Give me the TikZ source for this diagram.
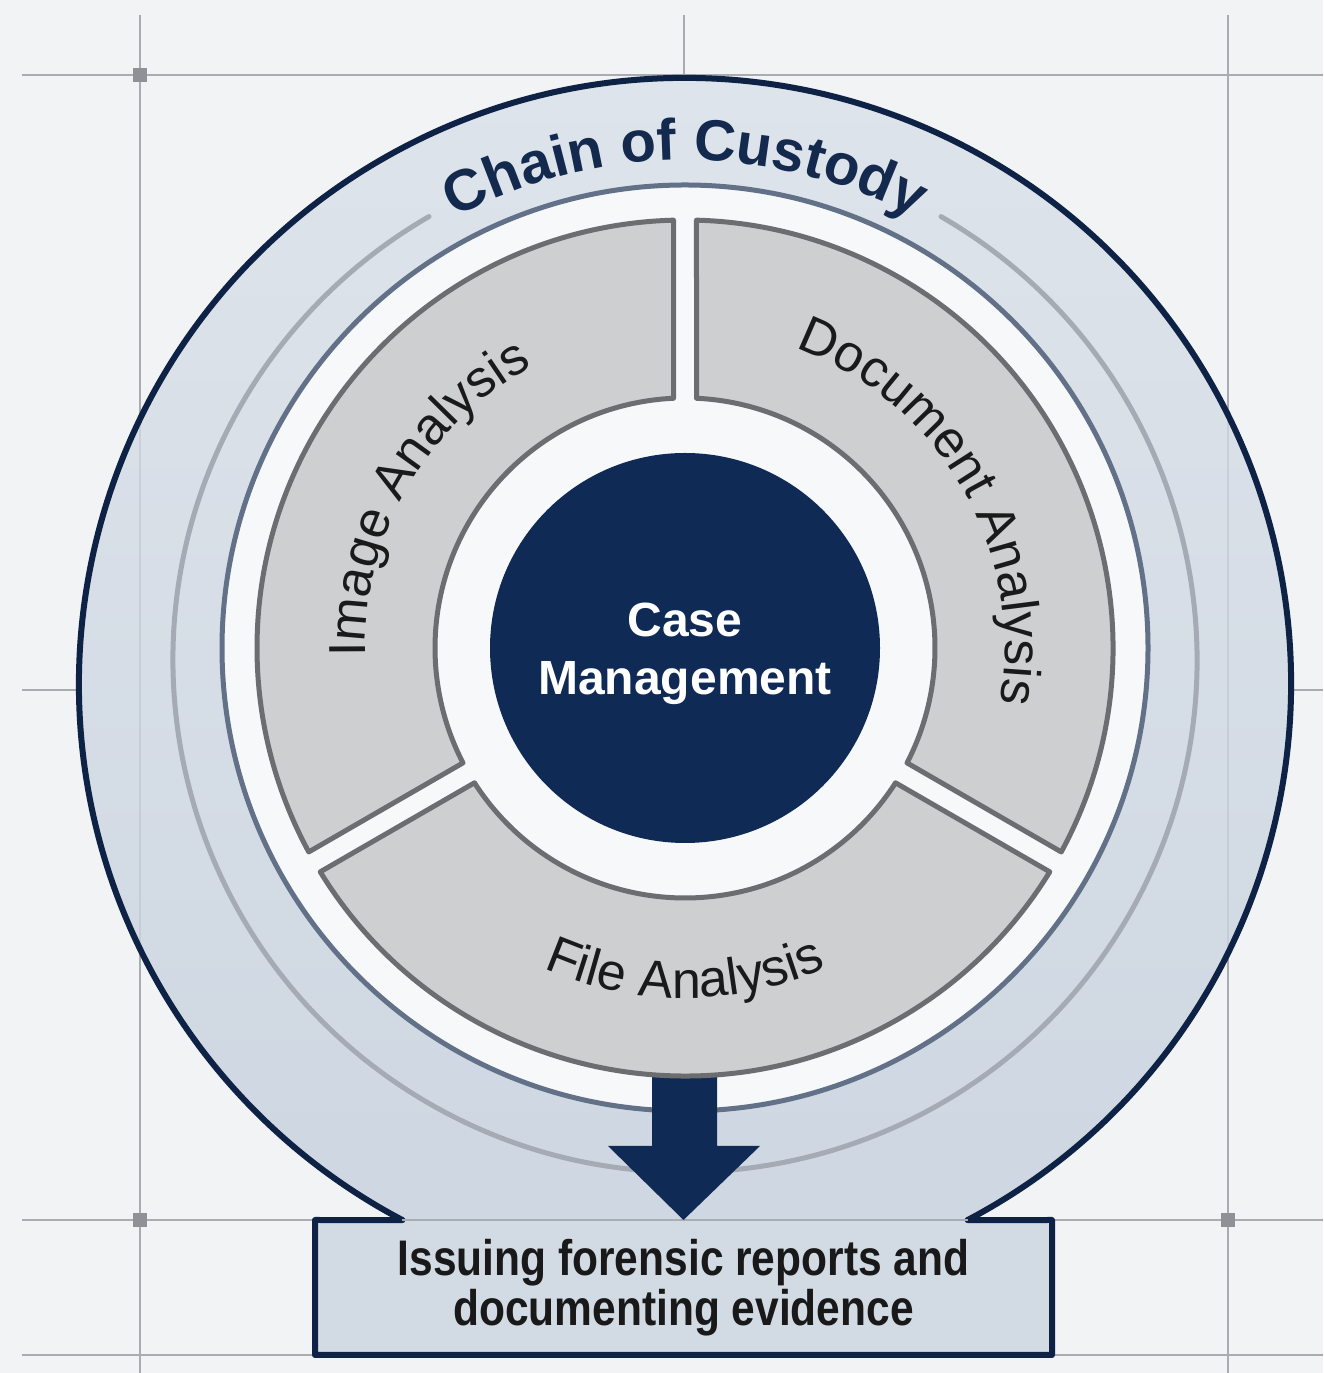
\documentclass[tikz,border=0pt]{standalone}
\usepackage{fontspec}
\setmainfont{Liberation Sans}
\newfontfamily\narrowsans[FakeStretch=0.85]{Liberation Sans}
\usetikzlibrary{calc,decorations.text}

\definecolor{bgcol}{HTML}{F1F3F5}
\definecolor{gridcol}{HTML}{A9ACB0}
\definecolor{sqcol}{HTML}{8E9297}
\definecolor{navy}{HTML}{0D2245}
\definecolor{ringtop}{HTML}{DEE4EB}
\definecolor{ringbot}{HTML}{CDD6E1}
\definecolor{boxcol}{HTML}{D2DAE4}
\definecolor{innerwhite}{HTML}{F6F8FA}
\definecolor{bluegray}{HTML}{627188}
\definecolor{arcgray}{HTML}{A4ABB4}
\definecolor{segfill}{HTML}{CECFD1}
\definecolor{segline}{HTML}{6C6D70}
\definecolor{casecol}{HTML}{0F2A55}
\definecolor{chaincol}{HTML}{13294D}
\definecolor{labelcol}{HTML}{1A1A1A}

\newcommand\seglabelfont{\fontsize{52}{54}\selectfont\color{labelcol}}
\newcommand\chainlabelfont{\fontsize{58}{60}\selectfont\bfseries\color{chaincol}}

\tikzset{
 gridline/.style={draw=gridcol, line width=2.5pt},
 gridsq/.style={fill=sqcol},
 outline/.style={draw=navy, line width=6pt, line join=round},
 segment/.style={fill=segfill, draw=segline, line width=5pt, line join=round},
 reportbox/.style={fill=boxcol, minimum width=737pt, minimum height=135pt, inner sep=0pt, outer sep=0pt, align=center, font=\narrowsans\bfseries\fontsize{50}{50}\selectfont, text=black!90},
 casecircle/.style={circle, fill=casecol, minimum size=390pt, inner sep=0pt, outer sep=0pt},
 casetext/.style={align=center, text=white, font=\bfseries\fontsize{48}{58}\selectfont, inner sep=0pt},
 curvedlabel/.style={decorate, decoration={text along path, text align=center, text={#1}}},
}

\begin{document}
\begin{tikzpicture}[x=1pt,y=1pt]
\useasboundingbox (0,0) rectangle (1323,1373);
\fill[bgcol] (0,0) rectangle (1323,1373);
\coordinate (C) at (685,725);
\coordinate (O) at (685,689);
\coordinate (G) at (685,713);

% grid
\draw[gridline] (22,1298) -- (1323,1298);
\draw[gridline] (140,1358) -- (140,0);
\draw[gridline] (1228,1358) -- (1228,0);
\draw[gridline] (684,1358) -- (684,1298);
\draw[gridline] (22,683) -- (100,683);
\draw[gridline] (1270,683) -- (1323,683);
\draw[gridline] (22,153) -- (330,153);
\draw[gridline] (1040,153) -- (1323,153);
\draw[gridline] (22,18) -- (330,18);
\draw[gridline] (1040,18) -- (1323,18);
\fill[gridsq] (133,1291) rectangle ++(14,14);
\fill[gridsq] (133,146) rectangle ++(14,14);
\fill[gridsq] (1221,146) rectangle ++(14,14);

% outer ring
\shade[top color=ringtop, bottom color=ringbot] (O) circle[radius=606pt];
\begin{scope}
\clip (O) circle[radius=606pt];
\draw[gridline, draw opacity=0.3] (140,1358) -- (140,0);
\draw[gridline, draw opacity=0.3] (1228,1358) -- (1228,0);
\end{scope}

% report box
\node[reportbox] (report) at (683.5,85.5) {Issuing forensic reports and\\documenting evidence};
\coordinate (jl) at ($(O)+(242.2:606pt)$);
\coordinate (jr) at ($(O)+(-62.2:606pt)$);
\draw[outline] (jl) -- (report.north west) -- (report.south west) -- (report.south east) -- (report.north east) -- (jr) arc[start angle=-62.2, end angle=242.2, radius=606pt] -- cycle;
\draw[gridcol, line width=2pt] (jl) -- (jr);

% gray arc
\draw[arcgray, line width=5pt, line cap=round] ($(G)+(60:512pt)$) arc[start angle=60, end angle=-240, radius=512pt];

% inner white disk and blue-gray ring
\fill[innerwhite] (C) circle[radius=463pt];
\draw[bluegray, line width=5pt] (C) circle[radius=463pt];

% arrow
\fill[casecol] (652,297) -- (717,297) -- (717,227) -- (760,227) -- (report.north) -- (608,227) -- (652,227) -- cycle;

% segments
\draw[segment] ($(C)+(91.539:428pt)$) coordinate (segimage) arc[start angle=91.539, end angle=208.461, radius=428pt] -- ($(C)+(207.363:250pt)$) arc[start angle=207.363, end angle=92.637, radius=250pt] -- cycle;
\draw[segment] ($(C)+(211.539:428pt)$) coordinate (segfile) arc[start angle=211.539, end angle=328.461, radius=428pt] -- ($(C)+(327.363:250pt)$) arc[start angle=327.363, end angle=212.637, radius=250pt] -- cycle;
\draw[segment] ($(C)+(331.539:428pt)$) coordinate (segdoc) arc[start angle=331.539, end angle=448.461, radius=428pt] -- ($(C)+(447.363:250pt)$) arc[start angle=447.363, end angle=332.637, radius=250pt] -- cycle;

% segment labels
\path[curvedlabel={|\seglabelfont|Image Analysis}] ($(C)+(205:320pt)$) arc[start angle=205, end angle=95, radius=320pt];
\path[curvedlabel={|\seglabelfont|Document Analysis}] ($(C)+(85:320pt)$) arc[start angle=85, end angle=-25, radius=320pt];
\path[curvedlabel={|\seglabelfont|File Analysis}] ($(C)+(215:350pt)$) arc[start angle=215, end angle=325, radius=350pt];

% centre
\node[casecircle] (case) at (C) {};
\node[casetext] (caselbl) at ([yshift=-6pt]case.center) {Case\\Management};

% chain of custody
\path[curvedlabel={|\chainlabelfont|Chain of Custody}] ($(C)+(145:488pt)$) arc[start angle=145, end angle=35, radius=488pt];
\end{tikzpicture}
\end{document}
